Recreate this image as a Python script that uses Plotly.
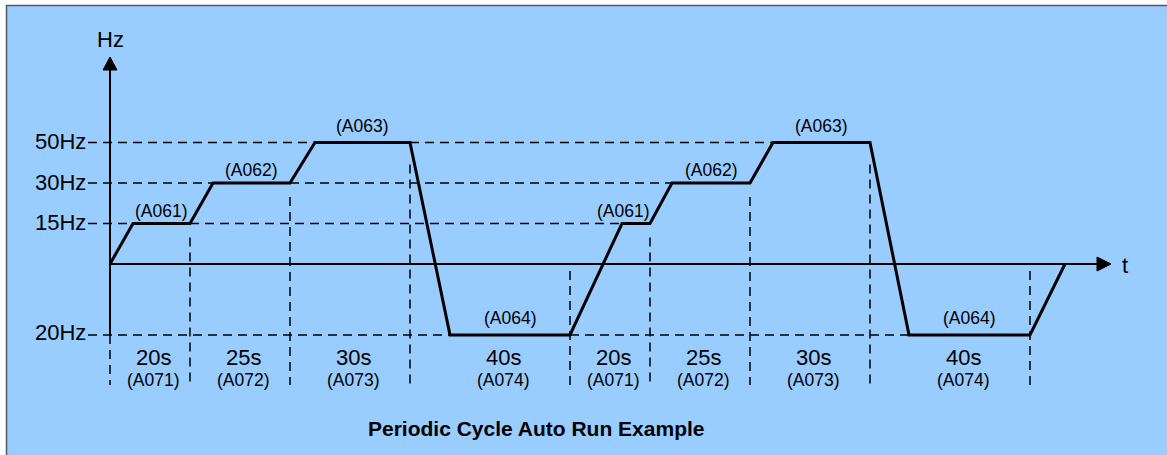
import numpy as np
import plotly.graph_objects as go

# ---- step program of the periodic cycle (run twice) ----
step_freq_hz = [15, 30, 50, -20]
step_time_s = [20, 25, 30, 40]
freq_params = ["(A061)", "(A062)", "(A063)", "(A064)"]
time_params = ["(A071)", "(A072)", "(A073)", "(A074)"]
n_cycles = 2
# accel / decel time at the start of every step, then the final stop ramp
ramp_s = [5.75, 5.75, 6.25, 10.0, 13.0, 5.5, 5.75, 9.75]
stop_ramp_s = 8.75
freq_ticks_hz = [50, 30, 15, -20]
title_text = "Periodic Cycle Auto Run Example"

# ---- drawing scale ----
W, H = 1167, 455
X0_PX, PX_PER_S = 110, 4.0
Y0_PX, PX_PER_LEVEL = 264, 40.5
# schematic frequency scale: levels are evenly stepped, not proportional to Hz
SCALE_HZ = [-20, 0, 15, 30, 50]
SCALE_LEVEL = [-1.75, 0, 1, 2, 3]

FONT = "Liberation Sans, Arial, sans-serif"
BLUE = "#99CCFF"


def lvl(hz):
    return float(np.interp(hz, SCALE_HZ, SCALE_LEVEL))


def px_t(px):
    return (px - X0_PX) / PX_PER_S


def px_l(py):
    return (Y0_PX - py) / PX_PER_LEVEL


freqs = step_freq_hz * n_cycles
durs = step_time_s * n_cycles
codes_f = freq_params * n_cycles
codes_t = time_params * n_cycles
bounds = np.concatenate([[0.0], np.cumsum(durs)])

# frequency command path
path_t, path_y, reach_t = [0.0], [0.0], []
for k, (f, r) in enumerate(zip(freqs, ramp_s)):
    reach = bounds[k] + r
    reach_t.append(reach)
    path_t += [reach, bounds[k + 1]]
    path_y += [lvl(f), lvl(f)]
path_t.append(bounds[-1] + stop_ramp_s)
path_y.append(0.0)

t_label = px_t(88)
bottom = px_l(385)

# dashed guides
gx, gy = [], []
for hz in freq_ticks_hz:
    idx = [k for k, f in enumerate(freqs) if f == hz]
    start = t_label
    for k in idx:
        gx += [start, reach_t[k], None]
        gy += [lvl(hz), lvl(hz), None]
        start = bounds[k + 1]
for k in range(len(freqs)):
    f = freqs[k]
    if f < 0:
        top = px_l(Y0_PX + 7)
    elif f == max(step_freq_hz):
        top = lvl(f) - 22 / PX_PER_LEVEL
    else:
        top = lvl(f) - 14 / PX_PER_LEVEL
    gx += [bounds[k + 1], bounds[k + 1], None]
    gy += [top, bottom, None]
# lower part of the frequency axis
gx += [0, 0, None]
gy += [lvl(min(step_freq_hz)), bottom, None]

fig = go.Figure()

# axes
y_top = px_l(70)
x_end = px_t(1097)
fig.add_trace(go.Scatter(x=[0, 0, None, 0, x_end], y=[y_top, lvl(min(step_freq_hz)), None, 0, 0],
                         mode="lines", line=dict(color="black", width=2),
                         hoverinfo="skip", showlegend=False))
fig.add_trace(go.Scatter(x=gx, y=gy, mode="lines",
                         line=dict(color="black", width=1.5, dash="9px,6px"),
                         hoverinfo="skip", showlegend=False))
fig.add_trace(go.Scatter(x=path_t, y=path_y, mode="lines",
                         line=dict(color="black", width=3),
                         hoverinfo="skip", showlegend=False))

shapes = [
    dict(type="rect", xref="paper", yref="paper", x0=6.5 / W, x1=1.02, y0=-0.02, y1=1 - 5.5 / H,
         fillcolor=BLUE, line=dict(color="#505a64", width=1.5), layer="below"),
]
# arrowheads
hw_t = 7 / PX_PER_S
hw_l = 7 / PX_PER_LEVEL
shapes.append(dict(type="path", xref="x", yref="y",
                   path=f"M {-hw_t},{y_top} L 0,{px_l(57)} L {hw_t},{y_top} Z",
                   fillcolor="black", line=dict(color="black", width=1)))
shapes.append(dict(type="path", xref="x", yref="y",
                   path=f"M {x_end},{hw_l} L {px_t(1111)},0 L {x_end},{-hw_l} Z",
                   fillcolor="black", line=dict(color="black", width=1)))

ann = []


def text(x, y, s, size, xshift=0, yshift=0, xanchor="center", bold=False):
    ann.append(dict(x=x, y=y, xref="x", yref="y", text=f"<b>{s}</b>" if bold else s,
                    showarrow=False, xanchor=xanchor, yanchor="middle",
                    xshift=xshift, yshift=yshift,
                    font=dict(family=FONT, size=size, color="black")))


text(0, px_l(39), "Hz", 22)
text(px_t(1125), px_l(265), "t", 22)
for hz in freq_ticks_hz:
    text(t_label, lvl(hz), f"{abs(hz)}Hz", 22, xanchor="right", yshift=1 if hz > 0 else 2)

for k in range(len(freqs)):
    f = freqs[k]
    mid_plateau = (reach_t[k] + bounds[k + 1]) / 2
    narrow = (bounds[k + 1] - reach_t[k]) * PX_PER_S < 40
    text(mid_plateau, lvl(f), codes_f[k], 17.5,
         xshift=-13 if narrow else 0, yshift=17 if (f < 0 or f == max(step_freq_hz)) else 13)
    mid_step = (bounds[k] + bounds[k + 1]) / 2
    xs = 13 if f < 0 else 3
    text(mid_step, px_l(357), f"{durs[k]}s", 22, xshift=xs)
    text(mid_step, px_l(380), codes_t[k], 17.5, xshift=xs)

ann.append(dict(x=536 / W, y=1 - 428 / H, xref="paper", yref="paper", text=f"<b>{title_text}</b>",
                showarrow=False, xanchor="center", yanchor="middle",
                font=dict(family=FONT, size=21, color="black")))

fig.update_layout(
    width=W, height=H, autosize=False,
    margin=dict(l=0, r=0, t=0, b=0, pad=0),
    paper_bgcolor="white", plot_bgcolor="rgba(0,0,0,0)",
    xaxis=dict(range=[px_t(0), px_t(W)], visible=False, fixedrange=True),
    yaxis=dict(range=[px_l(H), px_l(0)], visible=False, fixedrange=True),
    shapes=shapes, annotations=ann, showlegend=False,
)

fig.write_html("out.html")
